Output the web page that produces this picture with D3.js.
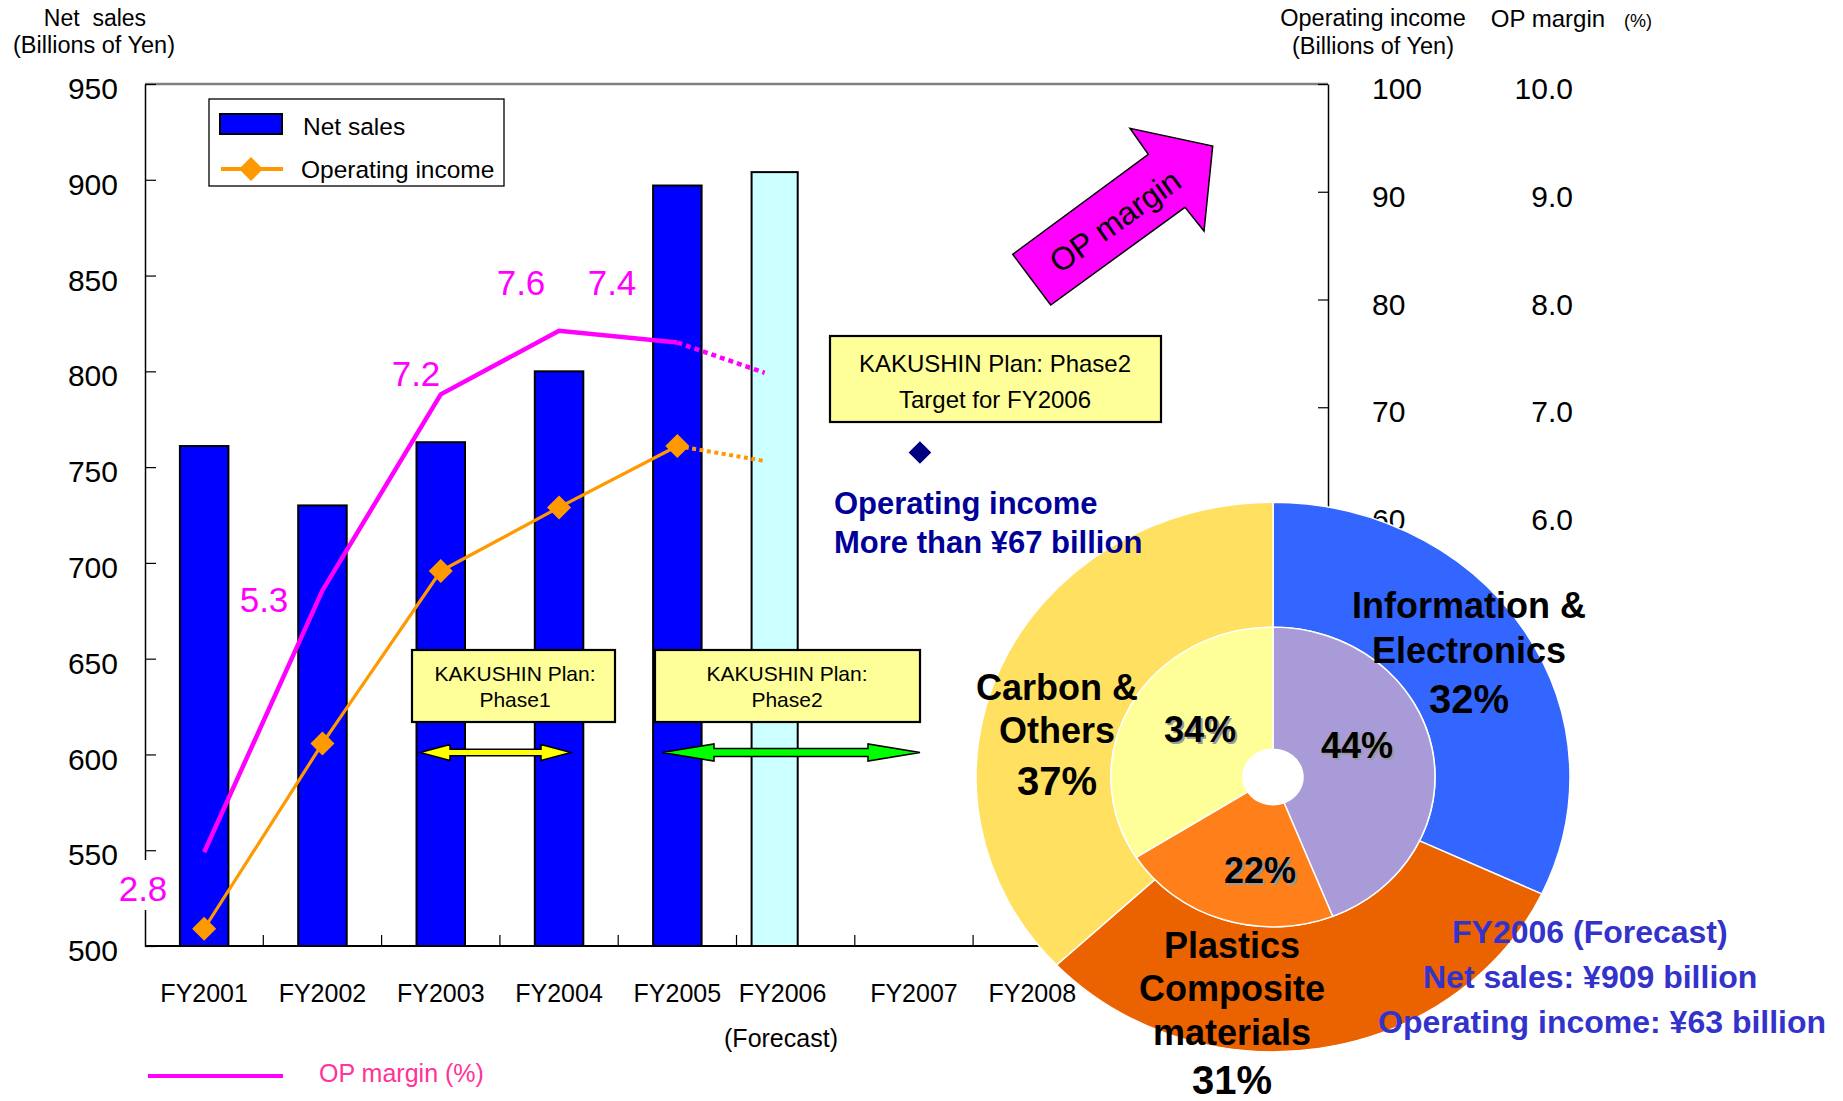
<!DOCTYPE html>
<html>
<head>
<meta charset="utf-8">
<script src="https://cdn.jsdelivr.net/npm/d3@7"></script>
<style>
  html,body{margin:0;padding:0;background:#fff;}
  svg{display:block;}
  text{font-family:"Liberation Sans", Arial, Helvetica, sans-serif;}
</style>
</head>
<body>
<svg id="chart" width="1843" height="1101"></svg>
<script>
// ---------------- DATA ----------------
const categories = ["FY2001","FY2002","FY2003","FY2004","FY2005","FY2006","FY2007","FY2008","FY2009","FY2010"];
const categoryLabels = ["FY2001","FY2002","FY2003","FY2004","FY2005","FY2006","FY2007","FY2008"];
const actualYears = ["FY2001","FY2002","FY2003","FY2004","FY2005"];
const netSales = [761, 730, 763, 800, 897];
const forecastYear = "FY2006";
const netSalesForecast = 904;
const operatingIncome = [21.6, 38.8, 54.8, 60.7, 66.4];
const operatingIncomeForecast = 65.0;
const opMargin = [2.87, 5.30, 7.12, 7.71, 7.60];
const opMarginForecast = 7.32;
const opMarginLabels = ["2.8", "5.3", "7.2", "7.6", "7.4"];
const targetYear = "FY2007";
const operatingIncomeTarget = 65.8;
const salesTicks = [500, 550, 600, 650, 700, 750, 800, 850, 900, 950];
const incomeTickMarks = [20, 30, 40, 50, 60, 70, 80, 90, 100];
const incomeTickLabels = [60, 70, 80, 90, 100];
const marginTickLabels = [6, 7, 8, 9, 10];
const segmentSalesShare = [32, 31, 37];   // outer ring: Information & Electronics, Plastics Composite materials, Carbon & Others
const segmentIncomeShare = [44, 22, 34];  // inner ring
const segmentLabelLines = [["Information &", "Electronics"], ["Plastics", "Composite", "materials"], ["Carbon &", "Others"]];

// ---------------- SETUP ----------------
const svg = d3.select("#chart");
const L = 145, R = 1328, T = 84, B = 946;

const x = d3.scaleBand().domain(categories).range([L, R]).padding(0);
const xc = c => x(c) + x.bandwidth() / 2;
const ySales = d3.scaleLinear().domain([500, 950]).range([B, T]);
const yInc = d3.scaleLinear().domain([20, 100]).range([B, T]);
const yMar = d3.scaleLinear().domain([2, 10]).range([B, T]);

const barW = x.bandwidth() * 0.41;
const fcBarW = x.bandwidth() * 0.39;
const fcBarX = xc(forecastYear) - 21;
const fcPointX = xc(forecastYear) - 31;
const fcLabelX = xc(forecastYear) - 13;

// ---------------- TITLES ----------------
const titles = svg.append("g").attr("fill", "#000");
titles.append("text").attr("x", 95).attr("y", 26).attr("text-anchor", "middle").attr("font-size", 23).attr("xml:space","preserve").text("Net  sales");
titles.append("text").attr("x", 94).attr("y", 53).attr("text-anchor", "middle").attr("font-size", 23.5).text("(Billions of Yen)");
titles.append("text").attr("x", 1373).attr("y", 26).attr("text-anchor", "middle").attr("font-size", 23.5).text("Operating income");
titles.append("text").attr("x", 1373).attr("y", 54).attr("text-anchor", "middle").attr("font-size", 23.5).text("(Billions of Yen)");
titles.append("text").attr("x", 1548).attr("y", 27).attr("text-anchor", "middle").attr("font-size", 24).text("OP margin");
titles.append("text").attr("x", 1638).attr("y", 27).attr("text-anchor", "middle").attr("font-size", 18).text("(%)");

// ---------------- FRAME / AXES ----------------
svg.append("line").attr("x1", L).attr("x2", R).attr("y1", T).attr("y2", T)
  .attr("stroke", "#808080").attr("stroke-width", 2.5);

const gL = svg.append("g").attr("transform", `translate(${L},0)`)
  .call(d3.axisLeft(ySales).tickValues(salesTicks).tickSizeInner(-11).tickSizeOuter(0).tickPadding(27).tickFormat(d3.format("d")));
gL.select(".domain").attr("stroke", "#000").attr("stroke-width", 1.5);
gL.selectAll(".tick line").attr("stroke", "#000").attr("stroke-width", 1.2);
gL.selectAll(".tick text").attr("font-size", 30).attr("fill", "#000").attr("y", 5)
  .attr("font-family", '"Liberation Sans", Arial, sans-serif');

const gR = svg.append("g").attr("transform", `translate(${R},0)`)
  .call(d3.axisRight(yInc).tickValues(incomeTickMarks).tickSizeInner(-10).tickSizeOuter(0).tickFormat(""));
gR.select(".domain").attr("stroke", "#000").attr("stroke-width", 1.5);
gR.selectAll(".tick line").attr("stroke", "#000").attr("stroke-width", 1.2);

const gRL = svg.append("g").attr("transform", `translate(${R},0)`)
  .call(d3.axisRight(yInc).tickValues(incomeTickLabels).tickSize(0).tickPadding(44).tickFormat(d3.format("d")));
gRL.select(".domain").remove();
gRL.selectAll(".tick text").attr("font-size", 30).attr("fill", "#000").attr("y", 5)
  .attr("font-family", '"Liberation Sans", Arial, sans-serif');

const gML = svg.append("g").attr("transform", `translate(1573,0)`)
  .call(d3.axisRight(yMar).tickValues(marginTickLabels).tickSize(0).tickPadding(0).tickFormat(d3.format(".1f")));
gML.select(".domain").remove();
gML.selectAll(".tick text").attr("font-size", 30).attr("fill", "#000").attr("y", 5).attr("text-anchor", "end")
  .attr("font-family", '"Liberation Sans", Arial, sans-serif');

// bottom axis
svg.append("line").attr("x1", L).attr("x2", R).attr("y1", B).attr("y2", B)
  .attr("stroke", "#000").attr("stroke-width", 2);
svg.append("g").selectAll("line").data(categories.slice(1)).join("line")
  .attr("x1", d => x(d)).attr("x2", d => x(d)).attr("y1", B).attr("y2", B - 11)
  .attr("stroke", "#000").attr("stroke-width", 1.2);
svg.append("g").selectAll("text").data(categoryLabels).join("text")
  .attr("x", d => d === forecastYear ? fcLabelX : xc(d)).attr("y", 1002)
  .attr("text-anchor", "middle").attr("font-size", 25).attr("fill", "#000").text(d => d);
svg.append("text").attr("x", 781).attr("y", 1047).attr("text-anchor", "middle")
  .attr("font-size", 25).attr("fill", "#000").text("(Forecast)");

// ---------------- BARS ----------------
svg.append("g").selectAll("rect").data(actualYears.map((c, i) => ({c, v: netSales[i]}))).join("rect")
  .attr("x", d => xc(d.c) - barW / 2).attr("width", barW)
  .attr("y", d => ySales(d.v)).attr("height", d => ySales(500) - ySales(d.v))
  .attr("fill", "#0000FF").attr("stroke", "#000").attr("stroke-width", 2);
svg.append("rect").attr("x", fcBarX - fcBarW / 2).attr("width", fcBarW)
  .attr("y", ySales(netSalesForecast)).attr("height", ySales(500) - ySales(netSalesForecast))
  .attr("fill", "#CCFFFF").attr("stroke", "#000").attr("stroke-width", 2);

// ---------------- PHASE BOXES & ARROWS ----------------
function box(x0, y0, w, h, lines, fs, baselines, cx) {
  svg.append("rect").attr("x", x0).attr("y", y0).attr("width", w).attr("height", h)
    .attr("fill", "#FFFF99").attr("stroke", "#000").attr("stroke-width", 2.2);
  lines.forEach((t, i) => svg.append("text").attr("x", cx).attr("y", baselines[i])
    .attr("text-anchor", "middle").attr("font-size", fs).attr("fill", "#000").text(t));
}
box(412, 650, 203, 72, ["KAKUSHIN Plan:", "Phase1"], 21, [681, 707], 515);
box(655, 650, 265, 72, ["KAKUSHIN Plan:", "Phase2"], 21, [681, 707], 787);

function dblArrow(x1, x2, y, head, hh, sh, fill) {
  const p = [[x1, y], [x1 + head, y - hh], [x1 + head, y - sh], [x2 - head, y - sh], [x2 - head, y - hh],
             [x2, y], [x2 - head, y + hh], [x2 - head, y + sh], [x1 + head, y + sh], [x1 + head, y + hh]];
  svg.append("polygon").attr("points", p.map(q => q.join(",")).join(" "))
    .attr("fill", fill).attr("stroke", "#000").attr("stroke-width", 1.5).attr("stroke-linejoin", "miter");
}
dblArrow(420, 571, 752.5, 30, 8, 3.2, "#FFFF00");
dblArrow(662, 920, 752.5, 52, 8.5, 4, "#00FF00");

// ---------------- LINES ----------------
const pts = (vals, ys) => actualYears.map((c, i) => [xc(c), ys(vals[i])]);
const line = d3.line();
const marPts = pts(opMargin, yMar);
const incPts = pts(operatingIncome, yInc);

svg.append("path").attr("d", line([marPts[4], [fcPointX, yMar(opMarginForecast)]]))
  .attr("fill", "none").attr("stroke", "#FF00FF").attr("stroke-width", 4.5).attr("stroke-dasharray", "5,4");
svg.append("path").attr("d", line([incPts[4], [fcPointX + 1, yInc(operatingIncomeForecast)]]))
  .attr("fill", "none").attr("stroke", "#FF9900").attr("stroke-width", 4).attr("stroke-dasharray", "4,3.5");

svg.append("path").attr("d", line(marPts)).attr("fill", "none")
  .attr("stroke", "#FF00FF").attr("stroke-width", 4.5).attr("stroke-linejoin", "miter");
svg.append("path").attr("d", line(incPts)).attr("fill", "none")
  .attr("stroke", "#FF9900").attr("stroke-width", 3.2);

const diamond = d3.symbol().type(d3.symbolSquare).size(17 * 17);
svg.append("g").selectAll("path").data(incPts).join("path")
  .attr("d", diamond).attr("transform", d => `translate(${d[0]},${d[1]}) rotate(45)`)
  .attr("fill", "#FF9900");

// margin labels
const marginLabelPos = [[143, 901], [264, 612], [416, 386], [521, 295], [612, 295]];
svg.append("rect").attr("x", 116).attr("y", 860).attr("width", 54).attr("height", 50).attr("fill", "#fff");
svg.append("g").selectAll("text").data(opMarginLabels).join("text")
  .attr("x", (d, i) => marginLabelPos[i][0]).attr("y", (d, i) => marginLabelPos[i][1])
  .attr("text-anchor", "middle").attr("font-size", 35).attr("fill", "#FF00FF").text(d => d);

// ---------------- LEGENDS ----------------
svg.append("rect").attr("x", 209).attr("y", 99).attr("width", 295).attr("height", 87)
  .attr("fill", "#fff").attr("stroke", "#000").attr("stroke-width", 1.3);
svg.append("rect").attr("x", 220).attr("y", 114).attr("width", 62).attr("height", 20)
  .attr("fill", "#0000FF").attr("stroke", "#000").attr("stroke-width", 2);
svg.append("text").attr("x", 303).attr("y", 135).attr("font-size", 24.5).attr("fill", "#000").text("Net sales");
svg.append("line").attr("x1", 221).attr("x2", 283).attr("y1", 169).attr("y2", 169)
  .attr("stroke", "#FF9900").attr("stroke-width", 4);
svg.append("path").attr("d", diamond).attr("transform", "translate(251,169) rotate(45)").attr("fill", "#FF9900");
svg.append("text").attr("x", 301).attr("y", 178).attr("font-size", 24.5).attr("fill", "#000").text("Operating income");

svg.append("line").attr("x1", 148).attr("x2", 283).attr("y1", 1076).attr("y2", 1076)
  .attr("stroke", "#FF00FF").attr("stroke-width", 4);
svg.append("text").attr("x", 319).attr("y", 1082).attr("font-size", 25).attr("fill", "#FF3399").text("OP margin (%)");

// ---------------- OP MARGIN ARROW ----------------
const arrowPts = [[1012.7, 254.3], [1050.7, 305], [1185, 207.3], [1204, 231], [1212.7, 146], [1130, 128.3], [1148.3, 154.3]];
svg.append("polygon").attr("points", arrowPts.map(p => p.join(",")).join(" "))
  .attr("fill", "#FF00FF").attr("stroke", "#000").attr("stroke-width", 1.5);
svg.append("text").attr("transform", "translate(1115,221) rotate(-35.5)")
  .attr("text-anchor", "middle").attr("dy", "0.35em").attr("font-size", 32).attr("fill", "#000").text("OP margin");

// target box
box(830, 336, 331, 86, ["KAKUSHIN Plan: Phase2", "Target for FY2006"], 24, [372, 408], 995);
svg.append("path").attr("d", d3.symbol().type(d3.symbolSquare).size(16 * 16))
  .attr("transform", `translate(${xc(targetYear) + 6},${yInc(operatingIncomeTarget)}) rotate(45)`)
  .attr("fill", "#000080");

// ---------------- DONUT ----------------
const pie = d3.pie().sort(null).value(d => d);
const outerArc = d3.arc().innerRadius(162).outerRadius(297);
const innerArc = d3.arc().innerRadius(30).outerRadius(162);
const outerColors = ["#3366FF", "#EB6200", "#FFE060"];
const innerColors = ["#A99AD8", "#FF801A", "#FFFF99"];
const gP = svg.append("g").attr("transform", "translate(1273,777) scale(1,0.925)");
gP.selectAll("path.o").data(pie(segmentSalesShare)).join("path").attr("class", "o")
  .attr("d", outerArc).attr("fill", (d, i) => outerColors[i]).attr("stroke", "#fff").attr("stroke-width", 1.5);
gP.selectAll("path.i").data(pie(segmentIncomeShare)).join("path").attr("class", "i")
  .attr("d", innerArc).attr("fill", (d, i) => innerColors[i]).attr("stroke", "#fff").attr("stroke-width", 1.5);

// segment labels
const segLabelLayout = [
  {cx: 1469, base: [618, 663], pct: 713},
  {cx: 1232, base: [958, 1001, 1045], pct: 1094},
  {cx: 1057, base: [700, 743], pct: 795}
];
segLabelLayout.forEach((s, i) => {
  segmentLabelLines[i].forEach((t, j) => svg.append("text").attr("x", s.cx).attr("y", s.base[j])
    .attr("text-anchor", "middle").attr("font-size", 36).attr("font-weight", "bold").attr("fill", "#000").text(t));
  svg.append("text").attr("x", s.cx).attr("y", s.pct).attr("text-anchor", "middle")
    .attr("font-size", 40).attr("font-weight", "bold").attr("fill", "#000").text(segmentSalesShare[i] + "%");
});
const innerLabelPos = [[1357, 758], [1260, 883], [1200, 742]];
innerLabelPos.forEach((p, i) => {
  svg.append("text").attr("x", p[0] + 2).attr("y", p[1] + 2).attr("text-anchor", "middle")
    .attr("font-size", 36).attr("font-weight", "bold").attr("fill", "#9a9a9a").text(segmentIncomeShare[i] + "%");
  svg.append("text").attr("x", p[0]).attr("y", p[1]).attr("text-anchor", "middle")
    .attr("font-size", 36).attr("font-weight", "bold").attr("fill", "#000").text(segmentIncomeShare[i] + "%");
});

// ---------------- ANNOTATION TEXT ----------------
svg.append("text").attr("x", 834).attr("y", 514).attr("font-size", 31).attr("font-weight", "bold")
  .attr("fill", "#000099").text("Operating income");
svg.append("text").attr("x", 834).attr("y", 553).attr("font-size", 31).attr("font-weight", "bold")
  .attr("fill", "#000099").text("More than ¥67 billion");

svg.append("text").attr("x", 1452).attr("y", 943).attr("font-size", 32).attr("font-weight", "bold")
  .attr("fill", "#3333CC").text("FY2006 (Forecast)");
svg.append("text").attr("x", 1423).attr("y", 988).attr("font-size", 32).attr("font-weight", "bold")
  .attr("fill", "#3333CC").text("Net sales: ¥909 billion");
svg.append("text").attr("x", 1378).attr("y", 1033).attr("font-size", 32).attr("font-weight", "bold")
  .attr("fill", "#3333CC").text("Operating income: ¥63 billion");
</script>
</body>
</html>
